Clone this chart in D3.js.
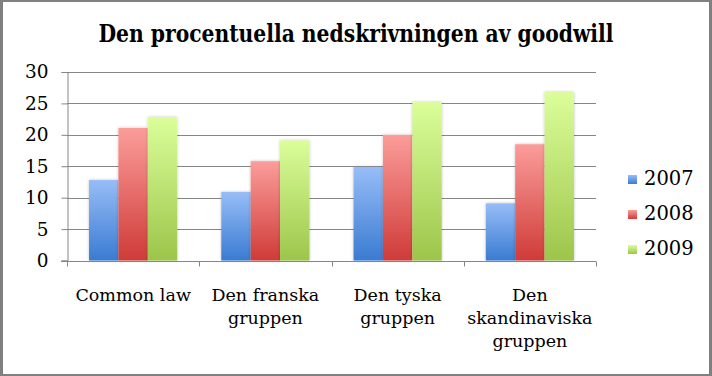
<!DOCTYPE html>
<html lang="sv">
<head>
<meta charset="UTF-8">
<title>Goodwill</title>
<script src="https://cdn.jsdelivr.net/npm/d3@7"></script>
<style>
  body { margin: 0; background: #fff; }
  text { font-family: "DejaVu Serif", "Liberation Serif", serif; }
</style>
</head>
<body>
<script>
// data
var categories = [["Common law"], ["Den franska", "gruppen"], ["Den tyska", "gruppen"], ["Den", "skandinaviska", "gruppen"]];
var years = ["2007", "2008", "2009"];
var v2007 = [12.8, 10.9, 14.9, 9.1];
var v2008 = [21.1, 15.8, 20.0, 18.5];
var v2009 = [22.8, 19.1, 25.2, 26.8];
var yTicks = [0, 5, 10, 15, 20, 25, 30];

var series = [v2007, v2008, v2009];
var grads = [["#97bdf7", "#3a7bd2"], ["#fb9d9a", "#cf3b38"], ["#dbfe9a", "#9dc54a"]];

var width = 712, height = 376;
var svg = d3.select("body").append("svg")
    .attr("width", width).attr("height", height);

// ram
svg.append("rect").attr("width", width).attr("height", height).attr("fill", "#808080");
svg.append("rect").attr("x", 3).attr("y", 2).attr("width", 706).attr("height", 372).attr("fill", "#fff");

var defs = svg.append("defs");
grads.forEach(function (g, i) {
    var lg = defs.append("linearGradient").attr("id", "g" + i)
        .attr("x1", 0).attr("y1", 0).attr("x2", 0).attr("y2", 1);
    lg.append("stop").attr("offset", "0%").attr("stop-color", g[0]);
    lg.append("stop").attr("offset", "100%").attr("stop-color", g[1]);
});
var f = defs.append("filter").attr("id", "sh").attr("x", "-20%").attr("y", "-5%").attr("width", "140%").attr("height", "110%");
f.append("feGaussianBlur").attr("in", "SourceAlpha").attr("stdDeviation", 1.5).attr("result", "b");
f.append("feComponentTransfer").attr("in", "b").attr("result", "t")
  .append("feFuncA").attr("type", "linear").attr("slope", 0.25);
var fm = f.append("feMerge");
fm.append("feMergeNode").attr("in", "t");
fm.append("feMergeNode").attr("in", "SourceGraphic");

// titel
svg.append("text")
    .attr("x", 356).attr("y", 42)
    .attr("text-anchor", "middle")
    .attr("font-size", 24).attr("font-weight", "bold")
    .attr("textLength", 515).attr("lengthAdjust", "spacingAndGlyphs")
    .text("Den procentuella nedskrivningen av goodwill");

var plotLeft = 67, plotRight = 596, plotTop = 72, plotBottom = 260.5;

var x = d3.scaleBand().domain(d3.range(categories.length)).range([plotLeft, plotRight]);
var y = d3.scaleLinear().domain([0, 30]).range([plotBottom, plotTop]);

// stödlinjer
svg.append("g").selectAll("line").data(yTicks.slice(1)).enter().append("line")
    .attr("x1", plotLeft).attr("x2", plotRight)
    .attr("y1", function (d) { return Math.round(y(d)) + 0.5; })
    .attr("y2", function (d) { return Math.round(y(d)) + 0.5; })
    .attr("stroke", "#868686").attr("stroke-width", 1);

// staplar
var bw = x.bandwidth();
var barW = bw / 4.5;
var inner = d3.scaleBand().domain(d3.range(3)).range([0, barW * 3]);

var groups = svg.append("g").selectAll("g").data(categories).enter().append("g")
    .attr("transform", function (d, i) { return "translate(" + (x(i) + barW * 0.75) + ",0)"; });

groups.selectAll("rect")
    .data(function (d, i) { return series.map(function (s, k) { return { k: k, v: s[i] }; }); })
    .enter().append("rect")
    .attr("x", function (d) { return inner(d.k); })
    .attr("width", inner.bandwidth())
    .attr("y", function (d) { return y(d.v); })
    .attr("height", function (d) { return plotBottom - y(d.v); })
    .attr("fill", function (d) { return "url(#g" + d.k + ")"; })
    .attr("filter", "url(#sh)");

// y-axel
var yAxis = svg.append("g").attr("transform", "translate(" + (plotLeft + 0.5) + ",0)")
    .call(d3.axisLeft(y).tickValues(yTicks).tickSize(6).tickPadding(13));
yAxis.select(".domain").attr("stroke", "#868686");
yAxis.selectAll(".tick line").attr("stroke", "#868686");
yAxis.selectAll(".tick text").attr("font-size", 18.5).attr("fill", "#000")
    .attr("font-family", "'DejaVu Serif', 'Liberation Serif', serif");

// x-axel
var xb = svg.append("g").attr("transform", "translate(0," + (Math.round(plotBottom) + 0.5) + ")");
xb.append("line").attr("x1", plotLeft - 6).attr("x2", plotRight).attr("stroke", "#868686");
xb.selectAll(".tk").data(d3.range(categories.length + 1)).enter().append("line")
    .attr("x1", function (d) { return Math.round(plotLeft + d * bw) + 0.5; })
    .attr("x2", function (d) { return Math.round(plotLeft + d * bw) + 0.5; })
    .attr("y1", 0).attr("y2", 5).attr("stroke", "#868686");

var labels = svg.append("g").selectAll("text").data(categories).enter().append("text")
    .attr("x", function (d, i) { return x(i) + bw / 2; })
    .attr("y", 301)
    .attr("text-anchor", "middle").attr("font-size", 17.5);
labels.selectAll("tspan").data(function (d) { return d; }).enter().append("tspan")
    .attr("x", function () { return d3.select(this.parentNode).attr("x"); })
    .attr("dy", function (d, i) { return i === 0 ? 0 : 23; })
    .text(function (d) { return d; });

// förklaring
var lg = svg.append("g").selectAll("g").data(years).enter().append("g")
    .attr("transform", function (d, i) { return "translate(628," + (178 + i * 35) + ")"; });
lg.append("rect").attr("x", 0).attr("y", -3).attr("width", 9).attr("height", 9)
    .attr("fill", function (d, i) { return "url(#g" + i + ")"; });
lg.append("text").attr("x", 16).attr("y", 7).attr("font-size", 19.5).text(function (d) { return d; });
</script>
</body>
</html>
